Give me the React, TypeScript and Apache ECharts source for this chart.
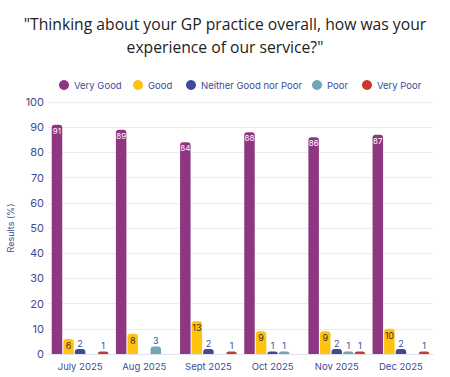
import React, { useEffect, useRef } from "react";
import * as echarts from "echarts";

const categories = ["July 2025", "Aug 2025", "Sept 2025", "Oct 2025", "Nov 2025", "Dec 2025"];
const veryGood = [91, 89, 84, 88, 86, 87];
const good = [6, 8, 13, 9, 9, 10];
const neither = [2, null, 2, 1, 2, 2];
const poor = [null, 3, null, 1, 1, null];
const veryPoor = [1, null, 1, null, 1, 1];
const yTicks = { min: 0, max: 100, interval: 10 };

const seriesNames = ["Very Good", "Good", "Neither Good nor Poor", "Poor", "Very Poor"];
const legendLefts = [59, 133, 186, 312, 362];

const axisBlue = "#3f4a98";

export default function App() {
  const ref = useRef<HTMLDivElement>(null);
  useEffect(() => {
    if (!ref.current) return;
    const chart = echarts.init(ref.current, undefined, { renderer: "svg" });
    const radius = [3, 3, 0, 0];
    const mk = (name: string, data: (number | null)[], color: string, label: any) => ({
      name,
      type: "bar",
      data,
      barWidth: 10.5,
      barGap: "10%",
      itemStyle: { color, borderRadius: radius },
      label: { show: true, fontSize: 9, fontFamily: "Inter", ...label },
    });
    chart.setOption({
      animation: false,
      title: {
        text: '"Thinking about your GP practice overall, how was your\nexperience of our service?"',
        left: "center",
        top: 7,
        textStyle: {
          fontSize: 15.7,
          fontWeight: "normal",
          color: "#222",
          fontFamily: "Open Sans",
          lineHeight: 23,
        },
      },
      legend: seriesNames.map((n, i) => ({
        top: 80,
        left: legendLefts[i],
        padding: 0,
        icon: "circle",
        itemWidth: 10,
        itemHeight: 10,
        data: [n],
        textStyle: { color: axisBlue, fontSize: 9.5, fontFamily: "Inter" },
      })),
      grid: { left: 48, right: 17, top: 102, bottom: 23, containLabel: false, outerBoundsMode: "none" },
      xAxis: {
        type: "category",
        data: categories,
        axisTick: { show: false },
        axisLine: { lineStyle: { color: "#e3e3ee" } },
        axisLabel: { color: axisBlue, fontSize: 9.5, fontFamily: "Inter", margin: 7, interval: 0 },
      },
      yAxis: {
        type: "value",
        ...yTicks,
        name: "Results (%)",
        nameLocation: "middle",
        nameGap: 25,
        nameTextStyle: { color: axisBlue, fontSize: 9, fontFamily: "Inter" },
        axisLabel: { color: axisBlue, fontSize: 11, fontFamily: "Inter", margin: 4 },
        splitLine: { lineStyle: { color: "#ececf4" } },
      },
      series: [
        mk(seriesNames[0], veryGood, "#8e3681", { position: "insideTop", color: "#fff", distance: 2, fontSize: 8 }),
        mk(seriesNames[1], good, "#ffc20e", { position: "insideTop", color: "#333", distance: 2 }),
        mk(seriesNames[2], neither, "#3d4a9c", { position: "top", color: axisBlue, distance: 1 }),
        mk(seriesNames[3], poor, "#70a6b7", { position: "top", color: axisBlue, distance: 1 }),
        mk(seriesNames[4], veryPoor, "#c83a2e", { position: "top", color: axisBlue, distance: 1 }),
      ],
    });
    return () => chart.dispose();
  }, []);
  return (
    <div
      ref={ref}
      style={{ position: "fixed", left: 0, top: 0, width: 450, height: 377, background: "#fff" }}
    />
  );
}
